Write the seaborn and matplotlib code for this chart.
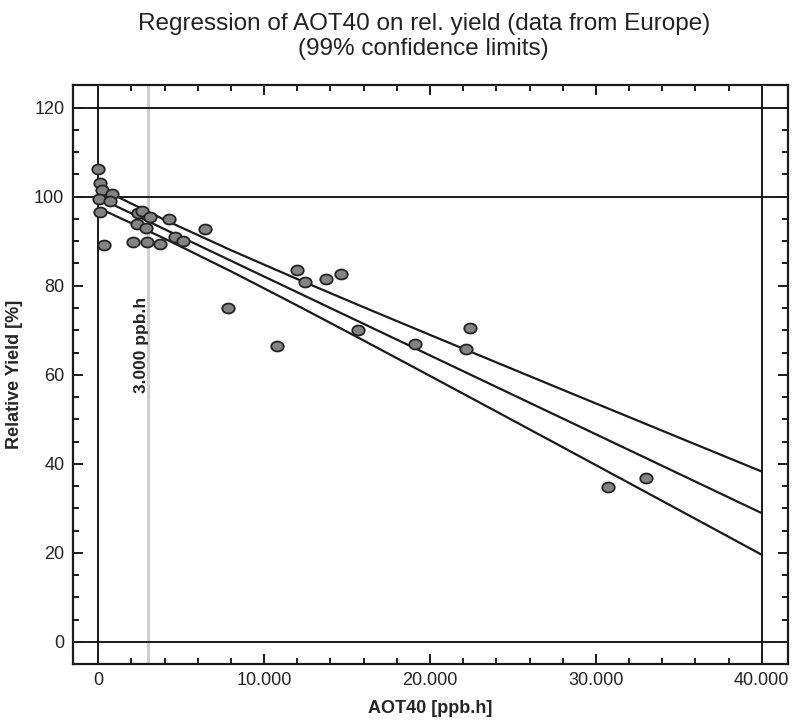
import matplotlib
matplotlib.use("Agg")
import matplotlib.pyplot as plt
import numpy as np
import pandas as pd
import seaborn as sns
from matplotlib.path import Path
from matplotlib.ticker import MultipleLocator, FuncFormatter

# ---- data ----
aot40 = [0, 80, 220, 20, 80, 820, 720, 360,
         2420, 2630, 3130, 2330, 2890, 4270, 2090, 2930, 3730, 4630, 5130, 6450,
         7840, 11990, 12450, 13750, 14660, 10750, 15660,
         19070, 22420, 22180, 30760, 33040]
rel_yield = [106.2, 103.1, 101.5, 99.6, 96.6, 100.6, 99.1, 89.1,
             96.3, 96.9, 95.5, 93.9, 92.9, 95.1, 89.8, 89.8, 89.4, 90.9, 90.1, 92.7,
             75.1, 83.5, 80.8, 81.6, 82.6, 66.5, 70.0,
             66.9, 70.5, 65.8, 34.8, 36.9]

fit_x = [0, 4000, 8000, 12000, 16000, 20000, 24000, 28000, 32000, 36000, 40000]
fit_mid = [99.8, 92.71, 85.62, 78.53, 71.44, 64.35, 57.26, 50.17, 43.08, 35.99, 28.9]
fit_upper = [102.1, 94.82, 87.99, 81.50, 75.18, 68.96, 62.78, 56.62, 50.49, 44.36, 38.25]
fit_lower = [97.5, 90.60, 83.25, 75.56, 67.70, 59.74, 51.74, 43.72, 35.67, 27.62, 19.55]

ref_h = [0, 100, 120]
ref_v = [0, 40000]
threshold = 3000

title = "Regression of AOT40 on rel. yield (data from Europe)\n(99% confidence limits)"
xlabel = "AOT40 [ppb.h]"
ylabel = "Relative Yield [%]"
thr_label = "3.000 ppb.h"

# ---- style ----
sns.set_style("ticks")
plt.rcParams['font.family'] = ['Liberation Sans', 'DejaVu Sans']

fig = plt.figure(figsize=(7.95, 7.22), dpi=100)
ax = fig.add_axes([0.0914, 0.0803, 0.9916 - 0.0914, 0.8816 - 0.0803])

dark = "#1a1a1a"

ax.axvline(threshold, color="#cfcfcf", lw=2.2, zorder=1)
for h in ref_h:
    ax.axhline(h, color=dark, lw=1.4, zorder=2)
for v in ref_v:
    ax.axvline(v, color=dark, lw=1.4, zorder=2)

df_fit = pd.DataFrame({"x": fit_x, "mid": fit_mid, "up": fit_upper, "lo": fit_lower})
for col in ["up", "mid", "lo"]:
    sns.lineplot(data=df_fit, x="x", y=col, ax=ax, color=dark, lw=1.6, zorder=3)

# ellipse marker
t = np.linspace(0, 2 * np.pi, 60)
ell = Path(np.column_stack([1.25 * np.cos(t), np.sin(t)]), closed=True)
df_pts = pd.DataFrame({"x": aot40, "y": rel_yield})
sns.scatterplot(data=df_pts, x="x", y="y", ax=ax, marker=ell, s=80,
                color="#838383", edgecolor="#222222", linewidth=1.3, zorder=4)

ax.text(2580, 66.7, thr_label, rotation=90, ha="center", va="center",
        fontsize=12.5, fontweight="bold", color="#222222")

ax.set_xlim(-1540, 41600)
ax.set_ylim(-5, 125)

ax.xaxis.set_major_locator(MultipleLocator(10000))
ax.xaxis.set_minor_locator(MultipleLocator(2000))
ax.yaxis.set_major_locator(MultipleLocator(20))
ax.yaxis.set_minor_locator(MultipleLocator(5))
ax.xaxis.set_major_formatter(FuncFormatter(lambda v, p: f"{int(v):,}".replace(",", ".")))

ax.tick_params(which="both", direction="in", top=True, right=True,
               color=dark, width=1.4, labelsize=13, labelcolor="#222222")
ax.tick_params(which="major", length=7.5, pad=6)
ax.tick_params(which="minor", length=4.5)

for s in ax.spines.values():
    s.set_linewidth(1.6)
    s.set_color(dark)

ax.set_xlabel(xlabel, fontsize=13, fontweight="bold", labelpad=8)
ax.set_ylabel(ylabel, fontsize=13, fontweight="bold", labelpad=8)

fig.text(0.533, 0.982, title, ha="center", va="top", fontsize=17.5,
         linespacing=1.2, color="#222222")

fig.savefig("out.png", dpi=100)
